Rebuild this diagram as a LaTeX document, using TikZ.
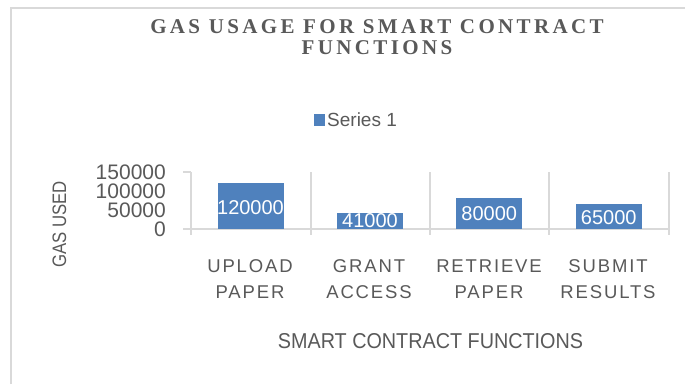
\documentclass[tikz,border=0pt]{standalone}
\usepackage{fontspec}
\setmainfont{Liberation Sans}
\newfontfamily\titlefont[LetterSpace=16]{Liberation Serif}
\newfontfamily\catfont[LetterSpace=10]{Liberation Sans}
\definecolor{txt}{HTML}{595959}
\definecolor{barblue}{HTML}{4F81BD}
\definecolor{gridgray}{HTML}{D9D9D9}
\begin{document}
\begin{tikzpicture}[x=1pt,y=-1pt,
  titletxt/.style={font=\titlefont\bfseries\fontsize{21}{21}\selectfont, text=txt, inner sep=0},
  ticklbl/.style={font=\fontsize{21}{21}\selectfont, text=txt, anchor=east, inner sep=0},
  barbox/.style={fill=barblue, draw=none, minimum width=66pt, inner sep=0, anchor=south},
  barlbl/.style={font=\fontsize{20}{20}\selectfont, text=white, inner sep=0},
  catlbl/.style={font=\catfont\fontsize{18.5}{26}\selectfont, text=txt, align=center, inner sep=0},
  gridline/.style={draw=gridgray, line width=2pt},
  axistitle/.style={font=\fontsize{21.5}{21.5}\selectfont, text=txt, inner sep=0}
]
\useasboundingbox (0,0) rectangle (685,384);
\fill[white] (0,0) rectangle (685,384);
% chart frame
\draw[draw=gridgray, line width=2.5pt] (11,384) -- (11,8) -- (685,8);
% title
\node[titletxt] (title1) at (377,26.5) {GAS USAGE FOR SMART CONTRACT};
\node[titletxt] (title2) at (377,48) {FUNCTIONS};
% legend
\node[fill=barblue, minimum width=11pt, minimum height=12pt, inner sep=0] (legsq) at (319,120) {};
\node[font=\fontsize{19}{19}\selectfont, text=txt, anchor=west, inner sep=0] (legtxt) at (327,120) {Series 1};
% grid / axis
\draw[gridline] (183,229) -- (669,229);
\draw[gridline] (183,172) -- (191,172);
\foreach \gx in {191,311,430,549,669} {
  \draw[gridline] (\gx,172) -- (\gx,235);
}
% tick labels
\node[ticklbl] (t150) at (166,172.5) {150000};
\node[ticklbl] (t100) at (166,191.5) {100000};
\node[ticklbl] (t50) at (166,210.5) {50000};
\node[ticklbl] (t0) at (166,229.5) {0};
% bars
\node[barbox, minimum height=45.6pt] (b1) at (250.5,229) {};
\node[barbox, minimum height=15.6pt] (b2) at (370,229) {};
\node[barbox, minimum height=30.4pt] (b3) at (489.2,229) {};
\node[barbox, minimum height=24.7pt] (b4) at (608.7,229) {};
\node[barlbl] (l1) at ([yshift=-2pt]b1.center) {120000};
\node[barlbl] (l2) at ([yshift=0pt]b2.center) {41000};
\node[barlbl] (l3) at ([yshift=-0.5pt]b3.center) {80000};
\node[barlbl] (l4) at ([yshift=-1.5pt]b4.center) {65000};
% category labels
\node[catlbl] (c1) at (250,279.5) {UPLOAD\\PAPER};
\node[catlbl] (c2) at (369,279.5) {GRANT\\ACCESS};
\node[catlbl] (c3) at (489,279.5) {RETRIEVE\\PAPER};
\node[catlbl] (c4) at (608,279.5) {SUBMIT\\RESULTS};
% axis titles
\node[axistitle] (xt) at (430.5,341.5) {\scalebox{0.92}[1]{SMART CONTRACT FUNCTIONS}};
\node[axistitle, font=\fontsize{19.5}{19.5}\selectfont, rotate=90] (yt) at (59.5,224.5) {\scalebox{0.86}[1]{GAS USED}};
\end{tikzpicture}
\end{document}
